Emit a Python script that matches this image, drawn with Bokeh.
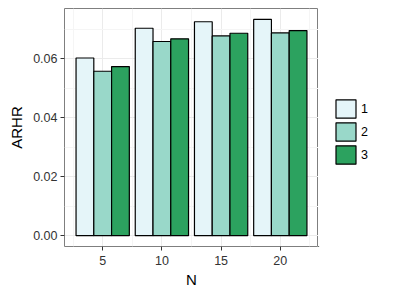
from bokeh.plotting import figure
from bokeh.layouts import row
from bokeh.models import ColumnDataSource, FixedTicker, PrintfTickFormatter, Legend, LegendItem, Range1d
from bokeh.transform import dodge
from bokeh.embed import file_html
from bokeh.resources import INLINE

N = [5, 10, 15, 20]
s1 = [0.0603, 0.0704, 0.0726, 0.0734]
s2 = [0.0558, 0.0659, 0.0678, 0.0688]
s3 = [0.0574, 0.0668, 0.0687, 0.0696]
series_names = ["1", "2", "3"]
colors = ["#E5F5F9", "#99D8C9", "#2CA25F"]
y_ticks = [0.0, 0.02, 0.04, 0.06]
y_minor = [0.01, 0.03, 0.05, 0.07]
x_minor = [2.5, 7.5, 12.5, 17.5, 22.5]

src = ColumnDataSource(dict(N=N, s1=s1, s2=s2, s3=s3))

FONT = "Liberation Sans"
p = figure(width=318, height=290, output_backend="svg", toolbar_location=None,
           x_range=Range1d(1.775, 23.225), y_range=Range1d(-0.00367, 0.0771),
           min_border_left=64, min_border_right=0, min_border_top=8, min_border_bottom=42)
p.background_fill_color = "white"
p.border_fill_color = "white"
p.outline_line_color = "#7F7F7F"
p.outline_line_width = 1

renderers = []
offsets = [-1.5, 0.0, 1.5]
for key, off, c in zip(["s1", "s2", "s3"], offsets, colors):
    r = p.vbar(x=dodge("N", off), top=key, bottom=0, width=1.5, source=src,
               fill_color=c, line_color="black", line_width=1.2)
    renderers.append(r)

p.xaxis.ticker = FixedTicker(ticks=N, minor_ticks=x_minor)
p.yaxis.ticker = FixedTicker(ticks=y_ticks, minor_ticks=y_minor)
p.yaxis.formatter = PrintfTickFormatter(format="%.2f")

for ax in (p.xaxis[0], p.yaxis[0]):
    ax.axis_line_color = None
    ax.minor_tick_line_color = None
    ax.major_tick_line_color = "#333333"
    ax.major_tick_in = 0
    ax.major_tick_out = 4
    ax.major_label_text_font = FONT
    ax.major_label_text_font_size = "12.5px"
    ax.major_label_text_color = "#333333"
    ax.axis_label_text_font = FONT
    ax.axis_label_text_font_size = "15px"
    ax.axis_label_text_font_style = "normal"
    ax.axis_label_text_color = "black"
p.xaxis.axis_label = "N"
p.yaxis.axis_label = "ARHR"
p.xaxis.major_label_standoff = 5
p.yaxis.major_label_standoff = 3
p.xaxis.axis_label_standoff = 3
p.yaxis.axis_label_standoff = 5

for g in (p.xgrid[0], p.ygrid[0]):
    g.grid_line_color = "#EBEBEB"
    g.grid_line_width = 1
    g.minor_grid_line_color = "#F5F5F5"
    g.minor_grid_line_width = 1

# legend panel as a separate figure
lf = figure(width=70, height=290, output_backend="svg", toolbar_location=None,
            x_range=Range1d(0, 1), y_range=Range1d(0, 1),
            min_border_left=0, min_border_right=0, min_border_top=0, min_border_bottom=0)
lf.axis.visible = False
lf.grid.visible = False
lf.outline_line_color = None
lf.background_fill_color = "white"
lf.border_fill_color = "white"
hidden = ColumnDataSource(dict(x=[-5.0], top=[-5.0]))
leg_renderers = [lf.vbar(x="x", top="top", bottom=-6.0, width=0.1, source=hidden, fill_color=c,
                         line_color="black", line_width=1.2) for c in colors]
items = [LegendItem(label=n, renderers=[r]) for n, r in zip(series_names, leg_renderers)]
legend = Legend(items=items, location=(15, 80), orientation="vertical",
                glyph_width=25, glyph_height=23, spacing=0, padding=0, margin=0,
                label_standoff=3, label_text_font=FONT, label_text_font_size="12.5px",
                label_text_color="black", border_line_color=None,
                background_fill_alpha=0)
lf.add_layout(legend, "center")

open("out.html", "w").write(file_html(row(p, lf, spacing=0), INLINE))
